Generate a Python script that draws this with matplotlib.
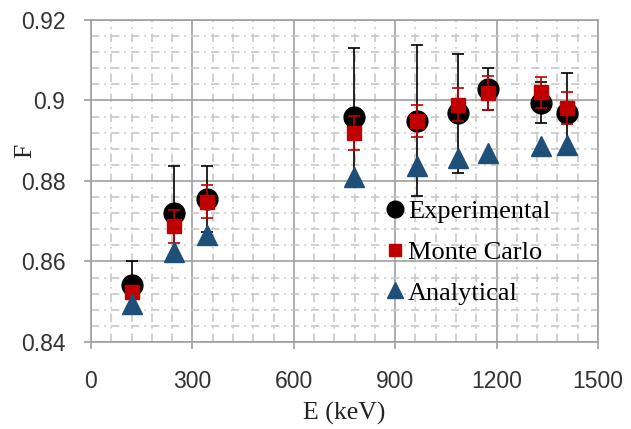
import matplotlib
matplotlib.use("Agg")
import matplotlib.pyplot as plt
from matplotlib.ticker import MultipleLocator

# energies (keV)
energy = [121.8, 244.7, 344.3, 778.9, 964.1, 1085.8, 1173.2, 1332.5, 1408.0]

exp_F = [0.8542, 0.8720, 0.8755, 0.8960, 0.8950, 0.8968, 0.9028, 0.8995, 0.8968]
exp_err = [0.0060, 0.0117, 0.0082, 0.0170, 0.0187, 0.0147, 0.0052, 0.0050, 0.0100]

mc_F = [0.8524, 0.8687, 0.8749, 0.8919, 0.8950, 0.8990, 0.9018, 0.9020, 0.8982]
mc_err = [0.0010, 0.0040, 0.0040, 0.0042, 0.0040, 0.0042, 0.0042, 0.0038, 0.0040]

ana_F = [0.8495, 0.8624, 0.8666, 0.8809, 0.8838, 0.8858, 0.8870, 0.8888, 0.8890]

yticks = [0.84, 0.86, 0.88, 0.9, 0.92]
ytick_labels = ["0.84", "0.86", "0.88", "0.9", "0.92"]

red = "#C00000"
blue = "#1F4E79"
sans = "Liberation Sans"
serif = "Liberation Serif"

fig = plt.figure(figsize=(6.31, 4.29), dpi=100)
ax = fig.add_axes([0.1442, 0.2028, 0.8035, 0.7506])

ax.set_xlim(0, 1500)
ax.set_ylim(0.84, 0.92)
ax.xaxis.set_major_locator(MultipleLocator(300))
ax.xaxis.set_minor_locator(MultipleLocator(60))
ax.set_yticks(yticks)
ax.set_yticklabels(ytick_labels)
ax.yaxis.set_minor_locator(MultipleLocator(0.004))

ax.grid(which="major", color="#a0a0a0", linewidth=1.2)
ax.grid(which="minor", color="#c8c8c8", linewidth=1.2, linestyle=(0, (5, 3, 1, 3)))
ax.set_axisbelow(True)

for s in ax.spines.values():
    s.set_color("#a0a0a0")
    s.set_linewidth(1.2)
ax.tick_params(which="major", direction="out", length=5, color="#a0a0a0", width=1.2,
               labelsize=16.5, labelcolor="#333333")
ax.tick_params(axis="x", pad=15)
ax.tick_params(axis="y", pad=13.5)
ax.tick_params(which="minor", length=0)
for lab in ax.get_xticklabels() + ax.get_yticklabels():
    lab.set_family(sans)

ax.errorbar(energy, exp_F, yerr=exp_err, fmt="none", ecolor="black",
            elinewidth=1.2, capsize=4, capthick=1.2, zorder=3)
ax.plot(energy, exp_F, "o", color="black", markersize=15, zorder=4, label="Experimental")
ax.errorbar(energy, mc_F, yerr=mc_err, fmt="none", ecolor=red,
            elinewidth=1.2, capsize=4.5, capthick=1.2, zorder=5)
ax.plot(energy, mc_F, "s", color=red, markersize=10, zorder=6, label="Monte Carlo")
ax.plot(energy, ana_F, "^", color=blue, markersize=15, zorder=7, label="Analytical")

ax.set_xlabel("E (keV)", family=serif, fontsize=18.5, color="#222222")
ax.xaxis.label.set_va("center")
ax.xaxis.set_label_coords(0.5, -0.222)
ax.set_ylabel("F", family=serif, fontsize=18.5, color="#222222")
ax.yaxis.label.set_va("center")
ax.yaxis.label.set_ha("center")
ax.yaxis.set_label_coords(-0.130, 0.593)

ax.legend(loc="upper left", bbox_to_anchor=(0.613, 0.534),
          bbox_transform=fig.transFigure, frameon=False,
          prop={"family": serif, "size": 19},
          handlelength=0.6, handletextpad=0.2, labelspacing=0.65,
          borderpad=0, borderaxespad=0, markerscale=0.8)

fig.savefig("out.png", dpi=100)
